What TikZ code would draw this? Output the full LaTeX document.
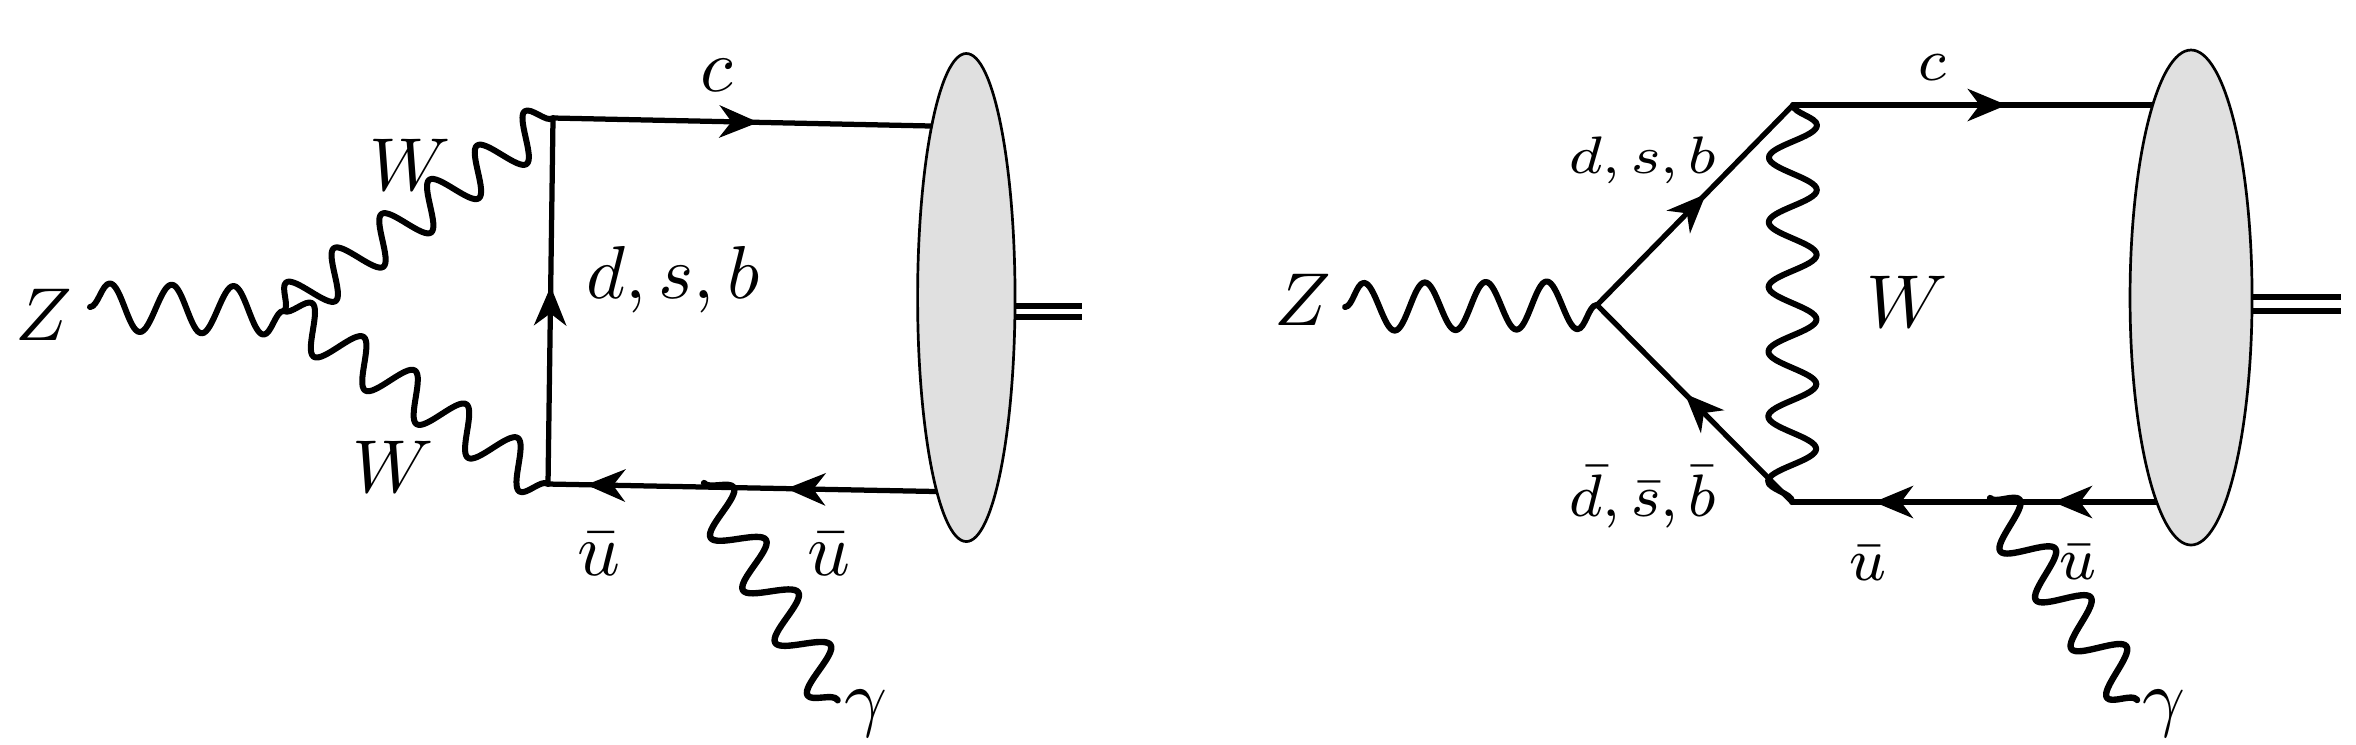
\documentclass[tikz,border=0pt]{standalone}
\usetikzlibrary{decorations.pathmorphing,decorations.markings,arrows.meta,shapes.geometric}
\definecolor{blobgray}{RGB}{224,224,224}
\begin{document}
\begin{tikzpicture}[x=0.13333pt,y=-0.13333pt,
  fermion/.style={line width=0.7pt,line cap=round},
  farrow/.style={postaction={decorate,decoration={markings,
     mark=at position #1 with {\arrow{Stealth[length=5.2pt,width=4.3pt,inset=1.6pt]}}}}},
  wave/.style 2 args={line width=0.8pt,line cap=round,line join=round,decorate,
     decoration={snake,amplitude=#1,segment length=#2}},
  blob/.style={draw,line width=0.36pt,fill=blobgray,ellipse,inner sep=0pt},
  hadron/.style={double,line width=0.8pt,double distance=#1},
  lbl/.style={inner sep=0pt,anchor=base,font=\fontsize{10}{12}\selectfont},
  slbl/.style={inner sep=0pt,anchor=base,font=\fontsize{8.3}{10}\selectfont},
]
\useasboundingbox (0,0) rectangle (2356,744);
% ---------------- left diagram ----------------
\coordinate (zs1) at (90,307);
\coordinate (v1) at (284,311);
\coordinate (tl1) at (553,118);
\coordinate (bl1) at (548,484);
\coordinate (et1) at (931.7,126);
\coordinate (eb1) at (936.8,491.5);
\coordinate (gs1) at (704,483);
\coordinate (ge1) at (837.6,700.3);
\coordinate (hs1) at (1012,311);
\coordinate (he1) at (1082,311);

\draw[wave={3.2pt}{8.252pt}] (zs1) -- (v1);
\draw[wave={2.93pt}{7.834pt}] (v1) -- (tl1);
\draw[wave={2.93pt}{8.195pt}] (v1) -- (bl1);
\draw[fermion,farrow=0.54] (bl1) -- (tl1);
\draw[fermion,farrow=0.5425] (tl1) -- (et1);
\draw[fermion,farrow=0.387,farrow=0.902] (eb1) -- (bl1);
\draw[wave={3.07pt}{8.222pt},line width=0.85pt] (gs1) -- (ge1);
\draw[hadron=0.67pt] (hs1) -- (he1);
\node[blob,minimum width=12.99pt,minimum height=65.07pt] (e1) at (966.3,297.5) {};

\node[lbl] (lz1) at (44,340) {$Z$};
\node[lbl] (lwu1) at (410.5,190) {$W$};
\node[lbl] (lwd1) at (393.5,492) {$W$};
\node[lbl] (lc1) at (716.7,91.7) {$c$};
\node[lbl] (ldsb1) at (673,298) {$d,s,b$};
\node[lbl] (lua1) at (599,575) {$\bar u$};
\node[lbl] (lub1) at (829,575) {$\bar u$};
\node[lbl] (lg1) at (866,722) {$\gamma$};

% ---------------- right diagram ----------------
\coordinate (zs2) at (1345,307);
\coordinate (v2) at (1597,305);
\coordinate (tr2) at (1793,105);
\coordinate (br2) at (1792,502);
\coordinate (et2) at (2152.7,105);
\coordinate (eb2) at (2156.6,502);
\coordinate (gs2) at (1990,498);
\coordinate (ge2) at (2137,700);
\coordinate (hs2) at (2249,304);
\coordinate (he2) at (2341,304);

\draw[wave={3.2pt}{8.125pt}] (zs2) -- (v2);
\draw[fermion,farrow=0.555] (v2) -- (tr2);
\draw[fermion,farrow=0.55] (br2) -- (v2);
\draw[wave={3.2pt}{8.628pt}] (tr2) -- (br2);
\draw[fermion,farrow=0.594] (tr2) -- (et2);
\draw[fermion,farrow=0.284,farrow=0.775] (eb2) -- (br2);
\draw[wave={3.07pt}{8.056pt},line width=0.85pt] (gs2) -- (ge2);
\draw[hadron=1.07pt] (hs2) -- (he2);
\node[blob,minimum width=16.27pt,minimum height=66pt] (e2) at (2191,297.5) {};

\node[lbl] (lz2) at (1302.5,325) {$Z$};
\node[slbl] (ldsb2) at (1643,173) {\scalebox{1}[0.88]{$d,s,b$}};
\node[slbl] (ldsbb2) at (1643,516.7) {$\bar d,\bar s,\bar b$};
\node[slbl] (lc2) at (1932.5,80) {$c$};
\node[lbl] (lw2) at (1907.5,327) {$W$};
\node[slbl] (lua2) at (1867.5,580) {$\bar u$};
\node[slbl] (lub2) at (2077.5,579) {$\bar u$};
\node[lbl] (lg2) at (2164,722) {$\gamma$};
\end{tikzpicture}
\end{document}
